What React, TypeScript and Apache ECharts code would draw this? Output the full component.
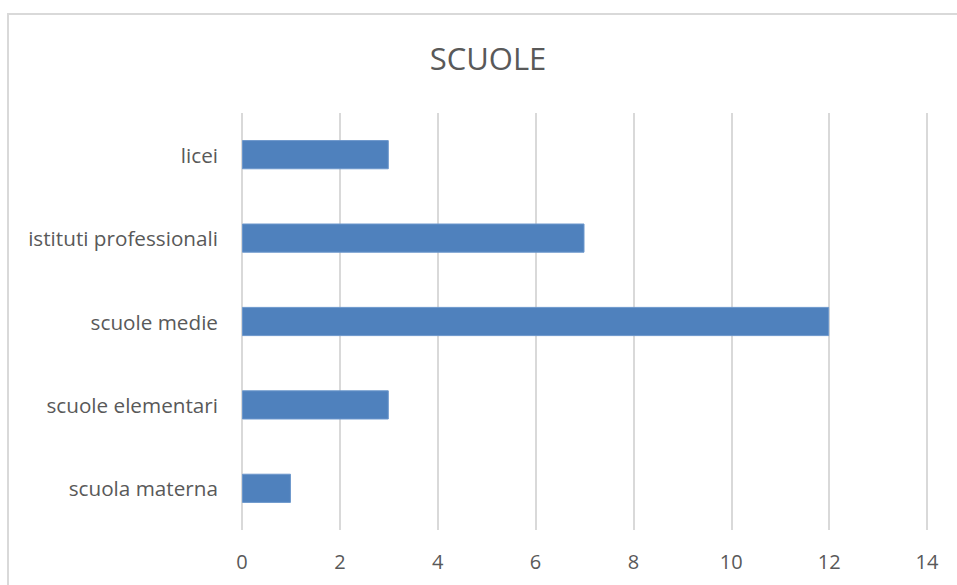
import React, { useEffect, useRef } from "react";
import * as echarts from "echarts";

const categories = ["scuola materna", "scuole elementari", "scuole medie", "istituti professionali", "licei"];
const values = [1, 3, 12, 7, 3];
const titleText = "SCUOLE";
const xMin = 0;
const xMax = 14;
const xInterval = 2;

export default function App() {
  const ref = useRef<HTMLDivElement>(null);
  useEffect(() => {
    if (!ref.current) return;
    const chart = echarts.init(ref.current, undefined, { renderer: "svg" });
    const font = "'Open Sans', 'Noto Sans', sans-serif";
    chart.setOption({
      animation: false,
      backgroundColor: "#ffffff",
      title: {
        text: titleText,
        left: 483,
        top: 37,
        textAlign: "center",
        textStyle: { fontFamily: font, fontSize: 31, fontWeight: "normal", color: "#595959" },
      },
      graphic: [
        {
          type: "rect",
          shape: { x: 8, y: 14, width: 1200, height: 1000 },
          style: { fill: "none", stroke: "#d9d9d9", lineWidth: 2 },
          silent: true,
          z: 10,
        },
      ],
      grid: { left: 242, right: 30, top: 113, bottom: 55, containLabel: false },
      xAxis: {
        type: "value",
        min: xMin,
        max: xMax,
        interval: xInterval,
        axisLine: { show: false },
        axisTick: { show: false },
        splitLine: { show: true, lineStyle: { color: "#d9d9d9", width: 2 } },
        axisLabel: { fontFamily: font, fontSize: 20, color: "#595959", margin: 21 },
      },
      yAxis: {
        type: "category",
        data: categories,
        axisLine: { show: false },
        axisTick: { show: false },
        splitLine: { show: false },
        axisLabel: { fontFamily: font, fontSize: 20.7, color: "#595959", margin: 24 },
      },
      series: [
        {
          type: "bar",
          data: values,
          barWidth: "35%",
          itemStyle: { color: "#4f81bd", borderColor: "#6c97cc", borderWidth: 1 },
        },
      ],
    });
    return () => chart.dispose();
  }, []);
  return (
    <div
      ref={ref}
      style={{ position: "fixed", left: 0, top: 0, width: 957, height: 585 }}
    />
  );
}
